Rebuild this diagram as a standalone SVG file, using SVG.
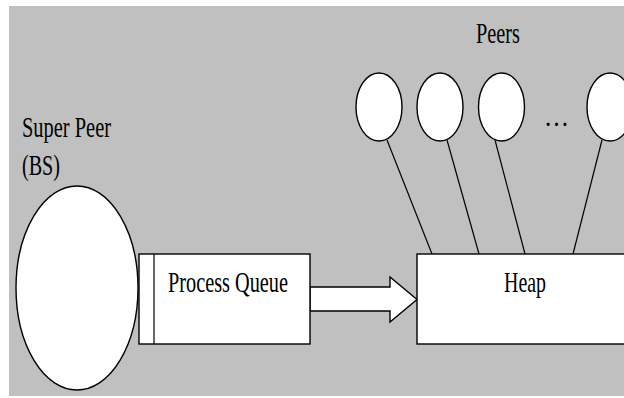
<svg xmlns="http://www.w3.org/2000/svg" width="624" height="398" viewBox="0 0 624 398">
<style>
.shape{fill:#fff;stroke:#000;stroke-width:1.4}
.conn{stroke:#000;stroke-width:1.2;fill:none}
.lbl{font-family:"Liberation Serif","Times New Roman",serif;font-size:29px;fill:#000}
</style>
<rect x="9" y="6" width="615" height="390" fill="#c0c0c0"/>
<g id="connectors">
<line class="conn" x1="387" y1="140" x2="432" y2="254"/>
<line class="conn" x1="447" y1="140" x2="479" y2="254"/>
<line class="conn" x1="495" y1="140" x2="525" y2="254"/>
<line class="conn" x1="602" y1="140" x2="573" y2="254"/>
<polygon class="shape" points="310,287 390,287 390,277 417,299.5 390,322 390,311 310,311"/>
</g>
<g id="peers-label"><text class="lbl" x="476" y="43" textLength="44" lengthAdjust="spacingAndGlyphs">Peers</text></g>
<g id="peer1"><ellipse class="shape" cx="379" cy="107" rx="23" ry="34"/></g>
<g id="peer2"><ellipse class="shape" cx="440" cy="107" rx="23" ry="34"/></g>
<g id="peer3"><ellipse class="shape" cx="501.5" cy="107" rx="23" ry="34"/></g>
<g id="ellipsis"><text class="lbl" x="544" y="126" textLength="25" lengthAdjust="spacingAndGlyphs">…</text></g>
<g id="peer4"><ellipse class="shape" cx="610" cy="107" rx="23" ry="34"/></g>
<g id="super-peer">
<text class="lbl" x="22" y="137" textLength="89" lengthAdjust="spacingAndGlyphs">Super Peer</text>
<text class="lbl" x="22" y="175" textLength="38" lengthAdjust="spacingAndGlyphs">(BS)</text>
<ellipse class="shape" cx="77" cy="288" rx="61" ry="102"/>
</g>
<g id="process-queue">
<rect class="shape" x="139" y="254" width="171" height="90"/>
<line class="conn" x1="154" y1="254" x2="154" y2="344"/>
<text class="lbl" x="168" y="292" textLength="120" lengthAdjust="spacingAndGlyphs">Process Queue</text>
</g>
<g id="heap">
<rect class="shape" x="417" y="254" width="220" height="90"/>
<text class="lbl" x="504" y="292" textLength="42" lengthAdjust="spacingAndGlyphs">Heap</text>
</g>
</svg>
